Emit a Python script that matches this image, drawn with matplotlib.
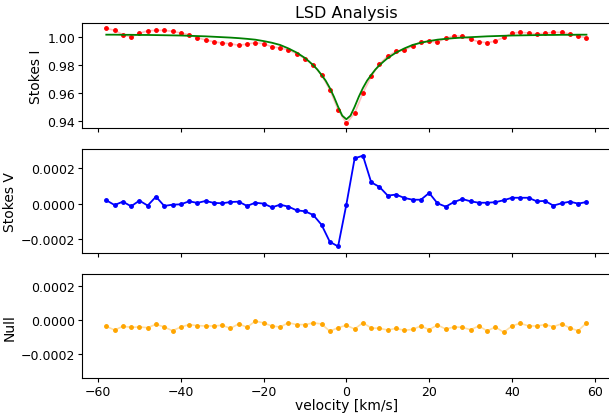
import numpy as np
import matplotlib
matplotlib.use("Agg")
from matplotlib import pyplot as plt

# LSD profile velocities [km/s]
velocity = np.arange(-58, 59, 2)

# Stokes I profile
stokes_i = [
    1.0065, 1.0050, 1.0019, 1.0002, 1.0029, 1.0047, 1.0050, 1.0050, 1.0043, 1.0031,
    1.0019, 0.9997, 0.9981, 0.9968, 0.9959, 0.9954, 0.9942, 0.9952, 0.9961, 0.9954,
    0.9932, 0.9923, 0.9909, 0.9882, 0.9846, 0.9799, 0.9729, 0.9623, 0.9479, 0.9381,
    0.9453, 0.9599, 0.9719, 0.9808, 0.9865, 0.9899, 0.9909, 0.9937, 0.9968, 0.9971,
    0.9966, 0.9993, 1.0009, 1.0009, 0.9986, 0.9968, 0.9961, 0.9973, 1.0000, 1.0029,
    1.0036, 1.0031, 1.0024, 1.0029, 1.0036, 1.0036, 1.0024, 1.0009, 0.9997,
]

# Stokes V profile (units of 1e-5)
stokes_v = [
    2.1, -0.6, 1.3, -1.3, 1.9, -0.9, 4.1, -1.1, -0.4, -0.2,
    1.5, 0.6, 1.7, 0.6, 0.4, 1.1, 1.3, -1.1, 0.7, 0.2,
    -1.9, -0.4, -1.5, -3.6, -4.1, -6.2, -11.7, -21.3, -23.9, -0.3,
    25.7, 27.2, 12.2, 9.6, 4.7, 5.3, 3.4, 2.4, 2.4, 6.2,
    0.4, -1.5, 1.1, 2.8, 1.5, 0.7, 0.7, 1.0, 2.1, 3.5,
    3.5, 3.5, 1.5, 1.7, -0.9, 0.4, 1.3, 0.2, 1.1,
]

# Null profile (units of 1e-5)
null = [
    -3.9, -6.1, -3.9, -4.5, -4.3, -4.7, -2.7, -4.3, -6.5, -4.3,
    -2.9, -3.5, -3.7, -3.7, -3.3, -5.1, -2.4, -4.5, -0.8, -1.9,
    -3.7, -4.3, -1.8, -2.9, -2.9, -1.9, -2.5, -6.8, -4.7, -3.3,
    -5.5, -1.8, -4.9, -5.1, -6.1, -5.1, -6.3, -5.7, -3.7, -5.9,
    -3.1, -5.5, -4.3, -4.5, -5.9, -3.7, -6.6, -4.3, -7.4, -3.7,
    -2.1, -3.7, -3.7, -2.9, -4.1, -2.4, -4.9, -6.5, -1.9,
]

# Fitted Stokes I model
fit_velocity = [
    -58, -56, -54, -52, -50, -48, -46, -44, -42, -40, -38, -36, -34, -32, -30,
    -28, -26, -24, -22, -20, -18, -16, -14, -12, -10, -9, -8, -7, -6, -5, -4,
    -3, -2, -1, 0, 1, 2, 3, 4, 5, 6, 7, 8, 9, 10, 12, 14, 16, 18, 20, 22, 24,
    26, 28, 30, 32, 34, 36, 38, 40, 42, 44, 46, 48, 50, 52, 54, 56, 58,
]
fit_i = [
    1.0019, 1.0019, 1.0018, 1.0018, 1.0017, 1.0017, 1.0016, 1.0015, 1.0014,
    1.0013, 1.0011, 1.0009, 1.0007, 1.0004, 1.0001, 0.9998, 0.9994, 0.9989,
    0.9983, 0.9973, 0.9961, 0.9945, 0.9920, 0.9890, 0.9851, 0.9826, 0.9799,
    0.9768, 0.9729, 0.9688, 0.9635, 0.9572, 0.9500, 0.9436, 0.9410, 0.9436,
    0.9500, 0.9572, 0.9635, 0.9688, 0.9729, 0.9768, 0.9799, 0.9826, 0.9851,
    0.9890, 0.9920, 0.9945, 0.9961, 0.9973, 0.9983, 0.9989, 0.9994, 0.9998,
    1.0001, 1.0004, 1.0007, 1.0009, 1.0011, 1.0013, 1.0014, 1.0015, 1.0016,
    1.0017, 1.0017, 1.0018, 1.0018, 1.0019, 1.0019,
]

v_scaled = np.array(stokes_v) * 1e-5
n_scaled = np.array(null) * 1e-5


def fmt(decimals):
    # tick formatter with a proper minus sign
    return plt.FuncFormatter(lambda x, pos: f"{x:.{decimals}f}".replace("-", "\u2212"))


fig = plt.figure(figsize=(6.09, 4.14), dpi=100)
left, width = 0.1351, 0.8673
ax1 = fig.add_axes([left, 0.6884, width, 0.2536])
ax2 = fig.add_axes([left, 0.3865, width, 0.2505], sharex=ax1)
ax3 = fig.add_axes([left, 0.0838, width, 0.2512], sharex=ax1)

# Stokes I with fit
ax1.plot(velocity, stokes_i, c="r", alpha=0.25, lw=1.2)
ax1.plot(velocity, stokes_i, "o", c="r", ms=2.5)
ax1.plot(fit_velocity, fit_i, c="g", lw=1.3)
ax1.set_ylim(0.9347, 1.0103)
ax1.set_yticks([0.94, 0.96, 0.98, 1.00])
ax1.set_ylabel("Stokes I", fontsize=10, labelpad=3)
ax1.set_title("LSD Analysis", fontsize=11.5, pad=4)

# Stokes V
ax2.plot(velocity, v_scaled, c="b", marker="o", ms=2.5, lw=1.3)
ax2.set_ylim(-0.000276, 0.000308)
ax2.set_yticks([-0.0002, 0.0, 0.0002])
ax2.set_ylabel("Stokes V", fontsize=10, labelpad=3)

# Null
ax3.plot(velocity, n_scaled, c="orange", alpha=0.35, lw=1.2)
ax3.plot(velocity, n_scaled, "o", c="orange", ms=2.5)
ax3.set_ylim(-0.000345, 0.000267)
ax3.set_yticks([-0.0002, 0.0, 0.0002])
ax3.set_ylabel("Null", fontsize=10, labelpad=3)
ax3.set_xlabel("velocity [km/s]", fontsize=10, labelpad=0)

ax1.set_xlim(-63.8, 63.8)
ax1.set_xticks([-60, -40, -20, 0, 20, 40, 60])
for ax in (ax1, ax2, ax3):
    ax.tick_params(labelsize=9, length=3, pad=2)
ax3.tick_params(axis="x", pad=1.5)
ax1.yaxis.set_major_formatter(fmt(2))
ax2.yaxis.set_major_formatter(fmt(4))
ax3.yaxis.set_major_formatter(fmt(4))
ax3.xaxis.set_major_formatter(fmt(0))
for ax in (ax1, ax2):
    ax.tick_params(labelbottom=False)

fig.savefig("out.png", dpi=100)
